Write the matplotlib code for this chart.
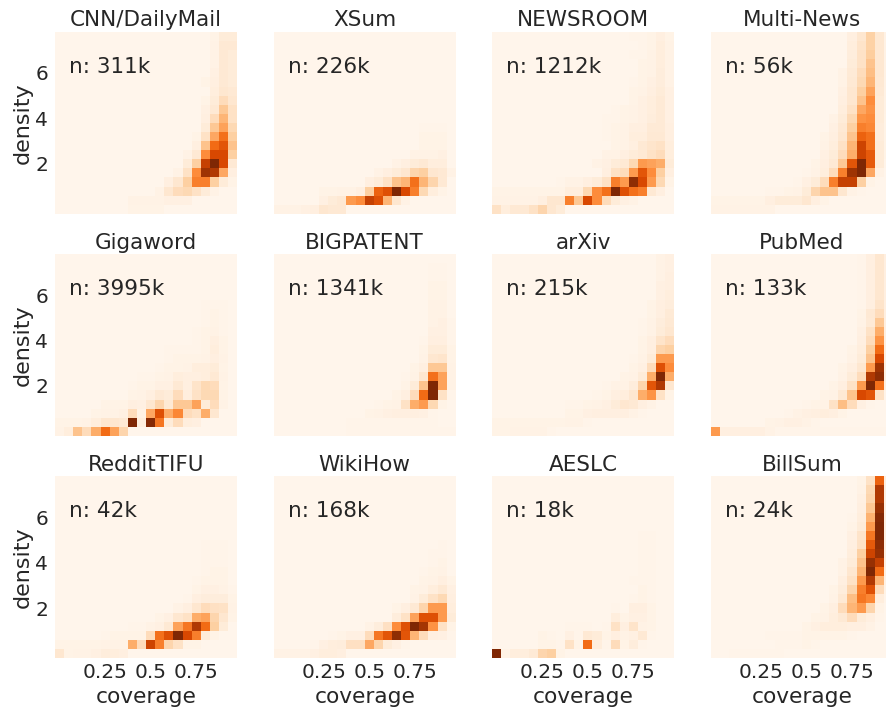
import numpy as np
import matplotlib
matplotlib.use('Agg')
import matplotlib.pyplot as plt

# rows run from the lowest density bin upward, 20 coverage bins per row,
# cell shade in percent of the panel's darkest cell. rows not listed are empty
cnn = [
    [0,0,0,0,0,0,0,0,2,2,2,2,0,0,0,0,0,0,0,0],
    [0,0,0,0,0,0,0,0,3,3,3,3,4,4,4,0,0,0,0,0],
    [0,0,0,0,0,0,0,0,0,0,0,3,12,18,20,15,8,3,0,0],
    [0,0,0,0,0,0,0,0,0,0,0,0,5,12,25,55,55,25,8,2],
    [0,0,0,0,0,0,0,0,0,0,0,0,0,3,15,50,90,85,40,5],
    [0,0,0,0,0,0,0,0,0,0,0,0,0,0,8,25,80,100,75,10],
    [0,0,0,0,0,0,0,0,0,0,0,0,0,0,3,10,50,75,75,25],
    [0,0,0,0,0,0,0,0,0,0,0,0,0,0,0,5,30,62,70,30],
    [0,0,0,0,0,0,0,0,0,0,0,0,0,0,0,2,15,40,60,25],
    [0,0,0,0,0,0,0,0,0,0,0,0,0,0,0,0,8,28,42,20],
    [0,0,0,0,0,0,0,0,0,0,0,0,0,0,0,0,5,18,35,15],
    [0,0,0,0,0,0,0,0,0,0,0,0,0,0,0,0,4,10,28,15],
    [0,0,0,0,0,0,0,0,0,0,0,0,0,0,0,0,2,8,18,12],
    [0,0,0,0,0,0,0,0,0,0,0,0,0,0,0,0,0,6,12,10],
    [0,0,0,0,0,0,0,0,0,0,0,0,0,0,0,0,2,5,10,8],
    [0,0,0,0,0,0,0,0,0,0,0,0,0,0,0,0,0,4,10,8],
    [0,0,0,0,0,0,0,0,0,0,0,0,0,0,0,0,0,3,10,8],
    [0,0,0,0,0,0,0,0,0,0,0,0,0,0,0,0,0,3,10,8],
    [0,0,0,0,0,0,0,0,0,0,0,0,0,0,0,0,0,3,10,10],
    [0,0,0,0,0,0,0,0,0,0,0,0,0,0,0,0,0,2,8,8],
]
xsum = [
    [3,3,3,4,5,12,10,10,0,0,0,0,0,0,0,0,0,0,0,0],
    [0,0,0,0,0,4,8,10,45,50,80,72,35,12,3,0,0,0,0,0],
    [0,0,0,0,0,2,2,3,3,5,25,65,72,100,75,55,20,6,2,0],
    [0,0,0,0,0,0,0,0,0,0,5,8,15,30,35,60,35,22,10,0],
    [0,0,0,0,0,0,0,0,0,0,0,3,5,8,12,22,25,12,10,3],
    [0,0,0,0,0,0,0,0,0,0,0,0,0,3,5,8,10,6,6,0],
    [0,0,0,0,0,0,0,0,0,0,0,0,0,0,0,3,3,3,4,0],
    [0,0,0,0,0,0,0,0,0,0,0,0,0,0,0,0,2,2,2,0],
    [0,0,0,0,0,0,0,0,0,0,0,0,0,0,0,0,2,2,2,0],
    [0,0,0,0,0,0,0,0,0,0,0,0,0,0,0,0,1,1,1,0],
]
newsroom = [
    [15,6,10,10,15,22,12,8,0,0,0,0,0,0,0,0,0,0,0,0],
    [3,3,3,3,3,5,12,12,55,28,75,50,18,8,4,3,0,0,0,0],
    [2,2,2,2,2,2,2,2,6,6,20,50,60,100,72,60,55,10,5,0],
    [0,0,0,0,0,0,0,1,3,3,5,8,15,55,45,95,75,45,20,2],
    [0,0,0,0,0,0,0,0,0,0,0,0,5,15,18,45,70,50,25,5],
    [0,0,0,0,0,0,0,0,0,0,0,3,4,8,10,20,45,42,38,8],
    [0,0,0,0,0,0,0,0,0,0,0,0,3,3,5,8,10,15,18,6],
    [0,0,0,0,0,0,0,0,0,0,0,0,0,2,3,5,10,13,15,6],
    [0,0,0,0,0,0,0,0,0,0,0,0,1,2,3,6,6,10,10,5],
    [0,0,0,0,0,0,0,0,0,0,0,0,1,2,3,5,5,9,9,5],
    [0,0,0,0,0,0,0,0,0,0,0,0,1,1,2,3,4,7,9,4],
    [0,0,0,0,0,0,0,0,0,0,0,0,0,1,2,3,4,6,9,4],
    [0,0,0,0,0,0,0,0,0,0,0,0,0,0,0,2,4,6,9,4],
    [0,0,0,0,0,0,0,0,0,0,0,0,0,0,0,2,3,5,8,4],
    [0,0,0,0,0,0,0,0,0,0,0,0,0,0,0,1,2,4,7,3],
    [0,0,0,0,0,0,0,0,0,0,0,0,0,0,0,0,2,3,7,3],
    [0,0,0,0,0,0,0,0,0,0,0,0,0,0,0,0,2,3,6,3],
    [0,0,0,0,0,0,0,0,0,0,0,0,0,0,0,1,1,3,6,3],
    [0,0,0,0,0,0,0,0,0,0,0,0,0,0,0,0,1,2,6,3],
    [0,0,0,0,0,0,0,0,0,0,0,0,0,0,0,1,1,2,5,2],
]
multi_news = [
    [3,3,3,3,3,3,3,0,0,0,0,0,0,0,0,0,0,0,0,0],
    [2,2,2,2,2,2,5,8,8,8,12,5,2,0,0,0,0,0,0,0],
    [0,0,0,0,0,0,1,1,2,3,8,22,30,30,12,3,1,0,0,0],
    [0,0,0,0,0,0,0,0,0,1,4,8,18,55,80,80,25,2,0,0],
    [0,0,0,0,0,0,0,0,0,0,1,3,6,18,55,90,100,40,3,0],
    [0,0,0,0,0,0,0,0,0,0,0,2,5,10,28,70,100,68,8,1],
    [0,0,0,0,0,0,0,0,0,0,0,0,4,8,18,38,78,68,8,2],
    [0,0,0,0,0,0,0,0,0,0,0,0,3,6,15,35,78,60,8,2],
    [0,0,0,0,0,0,0,0,0,0,0,0,2,5,12,30,65,60,7,2],
    [0,0,0,0,0,0,0,0,0,0,0,0,0,4,10,25,55,52,7,2],
    [0,0,0,0,0,0,0,0,0,0,0,0,0,3,8,20,48,50,8,2],
    [0,0,0,0,0,0,0,0,0,0,0,0,0,0,6,15,40,48,8,3],
    [0,0,0,0,0,0,0,0,0,0,0,0,0,0,5,12,30,50,8,3],
    [0,0,0,0,0,0,0,0,0,0,0,0,0,0,4,12,25,42,9,3],
    [0,0,0,0,0,0,0,0,0,0,0,0,0,0,3,10,20,35,10,3],
    [0,0,0,0,0,0,0,0,0,0,0,0,0,0,3,9,18,32,11,3],
    [0,0,0,0,0,0,0,0,0,0,0,0,0,0,0,8,15,30,11,3],
    [0,0,0,0,0,0,0,0,0,0,0,0,0,0,0,7,15,26,11,3],
    [0,0,0,0,0,0,0,0,0,0,0,0,0,0,0,6,14,24,11,3],
    [0,0,0,0,0,0,0,0,0,0,0,0,0,0,0,5,12,24,11,3],
]
gigaword = [
    [3,6,30,18,38,62,42,22,0,0,0,0,0,0,0,0,0,0,0,0],
    [2,2,2,3,6,12,12,10,100,6,98,58,8,18,6,5,0,0,0,0],
    [0,0,0,0,2,3,3,4,18,3,40,72,38,52,18,15,38,12,0,0],
    [0,0,0,0,0,2,2,2,5,4,12,22,10,28,28,42,8,18,3,0],
    [0,0,0,0,0,0,0,0,2,3,5,10,8,18,6,15,20,20,2,0],
    [0,0,0,0,0,0,0,0,1,2,2,4,4,10,5,14,20,18,2,0],
    [0,0,0,0,0,0,0,0,0,1,1,2,3,6,5,5,6,10,3,0],
    [0,0,0,0,0,0,0,0,0,0,0,1,2,2,3,6,6,8,2,0],
    [0,0,0,0,0,0,0,0,0,0,0,0,1,2,2,2,3,5,3,0],
    [0,0,0,0,0,0,0,0,0,0,0,0,1,1,1,1,2,6,2,0],
    [0,0,0,0,0,0,0,0,0,0,0,0,0,0,0,1,2,5,2,0],
    [0,0,0,0,0,0,0,0,0,0,0,0,0,0,0,1,2,3,1,0],
    [0,0,0,0,0,0,0,0,0,0,0,0,0,0,0,0,1,2,1,0],
    [0,0,0,0,0,0,0,0,0,0,0,0,0,0,0,0,1,2,1,0],
    [0,0,0,0,0,0,0,0,0,0,0,0,0,0,0,0,1,1,1,0],
]
bigpatent = [
    [0,0,0,0,0,0,0,0,1,1,1,1,1,1,1,1,1,1,1,1],
    [0,0,0,0,0,0,0,0,1,1,1,1,1,1,1,1,1,1,0,0],
    [0,0,0,0,0,0,0,0,0,0,2,3,4,5,5,5,4,1,0,0],
    [0,0,0,0,0,0,0,0,0,0,0,1,2,3,15,38,45,20,2,0],
    [0,0,0,0,0,0,0,0,0,0,0,0,0,2,5,18,62,100,15,1],
    [0,0,0,0,0,0,0,0,0,0,0,0,0,0,2,8,30,100,42,3],
    [0,0,0,0,0,0,0,0,0,0,0,0,0,0,1,3,12,60,42,3],
    [0,0,0,0,0,0,0,0,0,0,0,0,0,0,0,2,5,28,28,3],
    [0,0,0,0,0,0,0,0,0,0,0,0,0,0,0,0,3,12,13,2],
    [0,0,0,0,0,0,0,0,0,0,0,0,0,0,0,0,2,8,8,2],
    [0,0,0,0,0,0,0,0,0,0,0,0,0,0,0,0,1,5,5,1],
    [0,0,0,0,0,0,0,0,0,0,0,0,0,0,0,0,0,4,4,1],
    [0,0,0,0,0,0,0,0,0,0,0,0,0,0,0,0,0,3,4,1],
    [0,0,0,0,0,0,0,0,0,0,0,0,0,0,0,0,0,3,3,0],
    [0,0,0,0,0,0,0,0,0,0,0,0,0,0,0,0,0,3,3,0],
    [0,0,0,0,0,0,0,0,0,0,0,0,0,0,0,0,0,2,2,0],
    [0,0,0,0,0,0,0,0,0,0,0,0,0,0,0,0,0,2,2,0],
    [0,0,0,0,0,0,0,0,0,0,0,0,0,0,0,0,0,1,1,0],
    [0,0,0,0,0,0,0,0,0,0,0,0,0,0,0,0,0,1,1,0],
]
arxiv = [
    [2,2,3,3,3,3,1,0,0,0,0,0,0,0,0,0,0,0,0,0],
    [2,2,2,2,2,2,2,2,3,3,1,0,0,0,0,0,0,0,0,0],
    [0,0,0,0,0,0,0,0,2,2,4,5,5,5,5,3,1,0,0,0],
    [0,0,0,0,0,0,0,0,1,1,2,3,4,8,12,10,5,3,0,0],
    [0,0,0,0,0,0,0,0,0,0,0,1,2,5,6,12,38,48,15,2],
    [0,0,0,0,0,0,0,0,0,0,0,0,1,3,3,7,22,70,85,12],
    [0,0,0,0,0,0,0,0,0,0,0,0,0,0,2,3,8,38,100,38],
    [0,0,0,0,0,0,0,0,0,0,0,0,0,0,0,2,4,18,72,50],
    [0,0,0,0,0,0,0,0,0,0,0,0,0,0,0,1,3,8,45,45],
    [0,0,0,0,0,0,0,0,0,0,0,0,0,0,0,0,2,5,22,25],
    [0,0,0,0,0,0,0,0,0,0,0,0,0,0,0,0,2,5,14,18],
    [0,0,0,0,0,0,0,0,0,0,0,0,0,0,0,0,1,3,8,12],
    [0,0,0,0,0,0,0,0,0,0,0,0,0,0,0,0,1,3,7,10],
    [0,0,0,0,0,0,0,0,0,0,0,0,0,0,0,0,0,2,5,9],
    [0,0,0,0,0,0,0,0,0,0,0,0,0,0,0,0,0,2,5,7],
    [0,0,0,0,0,0,0,0,0,0,0,0,0,0,0,0,0,0,4,6],
    [0,0,0,0,0,0,0,0,0,0,0,0,0,0,0,0,0,0,4,5],
    [0,0,0,0,0,0,0,0,0,0,0,0,0,0,0,0,0,0,3,5],
    [0,0,0,0,0,0,0,0,0,0,0,0,0,0,0,0,0,0,3,4],
    [0,0,0,0,0,0,0,0,0,0,0,0,0,0,0,0,0,0,3,4],
]
pubmed = [
    [45,5,5,5,5,5,3,1,1,1,1,1,1,1,1,1,1,1,1,1],
    [0,0,0,0,0,0,2,3,4,4,3,1,0,0,0,0,0,0,0,0],
    [0,0,0,0,0,0,0,0,1,3,4,5,6,5,2,0,0,0,0,0],
    [0,0,0,0,0,0,0,0,0,0,1,2,3,15,32,18,4,1,0,0],
    [0,0,0,0,0,0,0,0,0,0,0,0,2,3,10,30,75,70,15,1],
    [0,0,0,0,0,0,0,0,0,0,0,0,0,2,5,15,45,100,60,5],
    [0,0,0,0,0,0,0,0,0,0,0,0,0,0,3,8,18,85,95,5],
    [0,0,0,0,0,0,0,0,0,0,0,0,0,0,2,5,12,45,90,5],
    [0,0,0,0,0,0,0,0,0,0,0,0,0,0,0,3,8,30,75,5],
    [0,0,0,0,0,0,0,0,0,0,0,0,0,0,0,2,6,25,62,5],
    [0,0,0,0,0,0,0,0,0,0,0,0,0,0,0,0,5,18,48,5],
    [0,0,0,0,0,0,0,0,0,0,0,0,0,0,0,0,4,15,38,5],
    [0,0,0,0,0,0,0,0,0,0,0,0,0,0,0,0,3,9,28,5],
    [0,0,0,0,0,0,0,0,0,0,0,0,0,0,0,0,2,10,18,5],
    [0,0,0,0,0,0,0,0,0,0,0,0,0,0,0,0,1,5,14,5],
    [0,0,0,0,0,0,0,0,0,0,0,0,0,0,0,0,1,5,12,5],
    [0,0,0,0,0,0,0,0,0,0,0,0,0,0,0,0,1,5,12,5],
    [0,0,0,0,0,0,0,0,0,0,0,0,0,0,0,0,1,5,12,5],
    [0,0,0,0,0,0,0,0,0,0,0,0,0,0,0,0,1,5,12,5],
    [0,0,0,0,0,0,0,0,0,0,0,0,0,0,0,0,1,5,12,5],
]
reddit_tifu = [
    [12,2,3,3,4,7,6,5,0,0,0,0,0,0,0,0,0,0,0,0],
    [2,2,2,2,2,3,3,3,38,18,78,55,22,15,2,2,0,0,0,0],
    [0,0,0,0,0,1,2,2,2,2,18,60,72,100,75,55,8,2,0,0],
    [0,0,0,0,0,0,0,0,1,1,3,4,10,42,58,85,62,25,8,0],
    [0,0,0,0,0,0,0,0,0,0,0,2,4,12,15,38,42,22,12,2],
    [0,0,0,0,0,0,0,0,0,0,0,0,0,3,5,12,18,16,15,3],
    [0,0,0,0,0,0,0,0,0,0,0,0,0,0,1,5,7,7,7,2],
    [0,0,0,0,0,0,0,0,0,0,0,0,0,0,0,2,4,4,3,1],
    [0,0,0,0,0,0,0,0,0,0,0,0,0,0,0,1,2,2,2,0],
    [0,0,0,0,0,0,0,0,0,0,0,0,0,0,0,0,1,2,2,0],
    [0,0,0,0,0,0,0,0,0,0,0,0,0,0,0,0,1,1,1,0],
    [0,0,0,0,0,0,0,0,0,0,0,0,0,0,0,0,1,1,1,0],
    [0,0,0,0,0,0,0,0,0,0,0,0,0,0,0,0,1,1,1,0],
]
wikihow = [
    [3,3,3,3,4,6,6,5,0,0,0,0,0,0,0,0,0,0,0,0],
    [0,0,0,0,1,4,6,7,16,16,40,22,8,4,1,0,0,0,0,0],
    [0,0,0,0,0,0,1,2,4,4,18,58,70,95,70,35,18,5,4,1],
    [0,0,0,0,0,0,0,0,0,0,3,7,16,50,72,100,88,48,15,2],
    [0,0,0,0,0,0,0,0,0,0,0,0,0,7,15,42,72,72,45,8],
    [0,0,0,0,0,0,0,0,0,0,0,0,0,2,5,10,22,45,45,6],
    [0,0,0,0,0,0,0,0,0,0,0,0,0,0,0,3,8,15,20,5],
    [0,0,0,0,0,0,0,0,0,0,0,0,0,0,0,2,3,6,10,4],
    [0,0,0,0,0,0,0,0,0,0,0,0,0,0,0,0,2,3,5,2],
    [0,0,0,0,0,0,0,0,0,0,0,0,0,0,0,0,1,2,3,0],
    [0,0,0,0,0,0,0,0,0,0,0,0,0,0,0,0,0,1,2,0],
    [0,0,0,0,0,0,0,0,0,0,0,0,0,0,0,0,0,1,1,0],
    [0,0,0,0,0,0,0,0,0,0,0,0,0,0,0,0,0,0,1,0],
]
aeslc = [
    [100,2,6,6,9,22,25,2,0,0,0,0,0,0,0,0,0,0,0,0],
    [0,0,0,0,0,2,2,1,15,2,62,6,1,18,2,7,1,0,0,0],
    [0,0,0,0,0,2,1,0,4,1,10,8,2,5,3,4,10,1,0,0],
    [0,0,0,0,0,0,0,0,1,1,1,0,1,15,5,14,3,2,0,0],
    [0,0,0,0,0,0,0,0,0,0,0,0,0,6,2,4,4,2,0,0],
    [0,0,0,0,0,0,0,0,0,0,0,0,0,1,0,5,5,2,0,0],
    [0,0,0,0,0,0,0,0,0,0,0,0,0,0,0,1,2,1,0,0],
    [0,0,0,0,0,0,0,0,0,0,0,0,0,0,0,0,2,1,0,0],
    [0,0,0,0,0,0,0,0,0,0,0,0,0,0,0,1,1,1,0,0],
    [0,0,0,0,0,0,0,0,0,0,0,0,0,0,0,0,1,1,0,0],
    [0,0,0,0,0,0,0,0,0,0,0,0,0,0,0,0,1,1,0,0],
    [0,0,0,0,0,0,0,0,0,0,0,0,0,0,0,0,1,1,0,0],
    [0,0,0,0,0,0,0,0,0,0,0,0,0,0,0,0,1,1,0,0],
    [0,0,0,0,0,0,0,0,0,0,0,0,0,0,0,0,1,1,0,0],
]
billsum = [
    [0,0,1,1,1,1,1,1,0,0,0,0,0,0,0,0,0,0,0,0],
    [0,0,0,0,0,0,0,1,1,1,2,1,0,0,0,0,0,0,0,0],
    [0,0,0,0,0,0,1,1,1,1,2,2,2,2,2,1,0,0,0,0],
    [0,0,0,0,0,0,0,0,0,0,2,4,6,6,6,5,5,3,0,0],
    [0,0,0,0,0,0,0,0,0,0,0,2,3,6,10,18,8,5,1,0],
    [0,0,0,0,0,0,0,0,0,0,0,0,2,5,18,35,45,22,2,0],
    [0,0,0,0,0,0,0,0,0,0,0,0,0,3,10,32,58,52,6,1],
    [0,0,0,0,0,0,0,0,0,0,0,0,0,2,7,22,55,72,18,2],
    [0,0,0,0,0,0,0,0,0,0,0,0,0,0,5,15,45,85,35,3],
    [0,0,0,0,0,0,0,0,0,0,0,0,0,0,3,12,35,100,62,5],
    [0,0,0,0,0,0,0,0,0,0,0,0,0,0,3,8,30,92,80,5],
    [0,0,0,0,0,0,0,0,0,0,0,0,0,0,0,6,25,78,92,5],
    [0,0,0,0,0,0,0,0,0,0,0,0,0,0,0,5,15,68,95,5],
    [0,0,0,0,0,0,0,0,0,0,0,0,0,0,0,4,14,58,100,5],
    [0,0,0,0,0,0,0,0,0,0,0,0,0,0,0,2,8,45,100,5],
    [0,0,0,0,0,0,0,0,0,0,0,0,0,0,0,1,6,36,98,5],
    [0,0,0,0,0,0,0,0,0,0,0,0,0,0,0,0,5,28,92,5],
    [0,0,0,0,0,0,0,0,0,0,0,0,0,0,0,0,4,22,85,5],
    [0,0,0,0,0,0,0,0,0,0,0,0,0,0,0,0,3,20,85,5],
    [0,0,0,0,0,0,0,0,0,0,0,0,0,0,0,0,2,15,65,5],
]

panels = [cnn, xsum, newsroom, multi_news, gigaword, bigpatent,
          arxiv, pubmed, reddit_tifu, wikihow, aeslc, billsum]
titles = ['CNN/DailyMail', 'XSum', 'NEWSROOM', 'Multi-News',
          'Gigaword', 'BIGPATENT', 'arXiv', 'PubMed',
          'RedditTIFU', 'WikiHow', 'AESLC', 'BillSum']
counts = ['311k', '226k', '1212k', '56k', '3995k', '1341k',
          '215k', '133k', '42k', '168k', '18k', '24k']
x_tick_bins = [5, 10, 15]
x_tick_labels = ['0.25', '0.5', '0.75']
y_tick_bins = [5, 10, 15]
y_tick_labels = ['2', '4', '6']

ink = '#262626'
W, H = 887, 709

fig, axes = plt.subplots(3, 4, figsize=(W / 100, H / 100), dpi=100,
                         sharex=True, sharey=True)
# the right column runs a few pixels off the canvas, as in the reference
fig.subplots_adjust(left=55 / W, right=893 / W, top=1 - 32 / H, bottom=1 - 658 / H,
                    wspace=0.2, hspace=0.222)

for ax, rows, title, count in zip(axes.flat, panels, titles, counts):
    grid = np.zeros((20, 20))
    grid[:len(rows)] = rows
    ax.pcolormesh(grid, cmap='Oranges', vmin=0, vmax=100)
    ax.set_title(title, fontsize=15.5, color=ink, pad=4)
    ax.text(0.077, 0.81, 'n: ' + count, transform=ax.transAxes, fontsize=15.5,
            color=ink, va='center')
    ax.tick_params(length=0, labelsize=14.5, labelcolor=ink)
    ax.tick_params(axis='x', pad=3.5)
    ax.tick_params(axis='y', pad=5)
    for side in ax.spines.values():
        side.set_visible(False)

axes[0, 0].set_xticks(np.array(x_tick_bins) + 0.5, x_tick_labels)
axes[0, 0].set_yticks(np.array(y_tick_bins) + 0.5, y_tick_labels)
for ax in axes[2]:
    ax.set_xlabel('coverage', fontsize=15.6, color=ink, labelpad=3.5)
for ax in axes[:, 0]:
    ax.set_ylabel('density', fontsize=16, color=ink, labelpad=2)

fig.savefig('out.png', dpi=100)
